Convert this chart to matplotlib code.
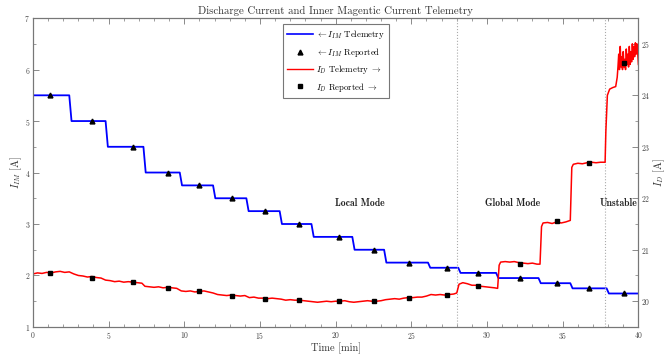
import numpy as np
import matplotlib
matplotlib.use("Agg")
import matplotlib.pyplot as plt
from matplotlib.lines import Line2D
from matplotlib.ticker import MultipleLocator

plt.rcParams['font.family'] = ['cmr10', 'DejaVu Serif']
plt.rcParams['mathtext.fontset'] = 'cm'
plt.rcParams['axes.formatter.use_mathtext'] = True

# inner magnetic current set points (A) and the times it steps down (min)
im_levels = [5.5, 5.0, 4.5, 4.0, 3.75, 3.5, 3.25, 3.0, 2.75, 2.5, 2.25,
             2.15, 2.05, 1.95, 1.85, 1.75, 1.65]
im_steps = [2.4, 4.8, 7.3, 9.7, 11.9, 14.1, 16.3, 18.4, 21.1, 23.2, 26.1,
            28.1, 30.6, 33.4, 35.5, 37.9]

# reported points (same time stamps for both)
rep_t = [1.15, 3.9, 6.6, 8.9, 10.95, 13.15, 15.36, 17.56, 20.25, 22.5, 24.83,
         27.36, 29.4, 32.2, 34.6, 36.75, 39.04]
rep_im = im_levels
rep_id = [20.55, 20.46, 20.37, 20.26, 20.19, 20.11, 20.05, 20.02, 20.0, 20.0,
          20.07, 20.12, 20.30, 20.73, 21.55, 22.68, 24.63]

# discharge current telemetry, (min, A)
id_local = [(0.0, 20.53), (0.3, 20.55), (0.6, 20.54), (0.9, 20.56), (1.2, 20.55),
            (1.5, 20.57), (1.8, 20.58), (2.1, 20.56), (2.4, 20.57), (2.7, 20.53),
            (3.0, 20.50), (3.3, 20.49), (3.6, 20.47), (3.9, 20.48), (4.2, 20.46),
            (4.5, 20.45), (4.8, 20.41), (5.1, 20.40), (5.4, 20.38), (5.7, 20.39),
            (6.0, 20.37), (6.3, 20.38), (6.6, 20.37), (6.9, 20.36), (7.2, 20.35),
            (7.4, 20.29), (7.7, 20.28), (8.0, 20.27), (8.3, 20.28), (8.6, 20.26),
            (8.9, 20.27), (9.2, 20.26), (9.5, 20.25), (9.8, 20.20), (10.1, 20.19),
            (10.4, 20.20), (10.7, 20.18), (11.0, 20.19), (11.3, 20.20), (11.6, 20.18),
            (11.9, 20.16), (12.2, 20.13), (12.5, 20.12), (12.8, 20.11), (13.1, 20.12),
            (13.4, 20.11), (13.7, 20.10), (14.0, 20.11), (14.3, 20.07), (14.6, 20.08),
            (14.9, 20.06), (15.2, 20.06), (15.5, 20.05), (15.8, 20.06), (16.1, 20.05),
            (16.4, 20.04), (16.7, 20.02), (17.0, 20.03), (17.3, 20.02), (17.6, 20.02),
            (17.9, 20.01), (18.2, 20.00), (18.5, 19.99), (18.8, 19.98), (19.1, 19.99),
            (19.4, 20.00), (19.7, 19.99), (20.0, 20.00), (20.3, 20.00), (20.6, 20.01),
            (20.9, 19.99), (21.2, 19.98), (21.5, 19.99), (21.8, 20.00), (22.1, 20.01),
            (22.4, 20.00), (22.7, 20.00), (23.0, 20.01), (23.3, 20.03), (23.6, 20.04),
            (23.9, 20.05), (24.2, 20.04), (24.5, 20.06), (24.8, 20.07), (25.1, 20.07),
            (25.4, 20.08), (25.7, 20.08), (26.0, 20.10), (26.3, 20.13), (26.6, 20.12),
            (26.9, 20.13), (27.2, 20.12), (27.5, 20.13), (27.8, 20.14), (28.0, 20.16)]
id_global = [(28.15, 20.33), (28.4, 20.36), (28.7, 20.34), (29.0, 20.31), (29.3, 20.31),
             (29.6, 20.29), (29.9, 20.28), (30.2, 20.27), (30.5, 20.26), (30.7, 20.25),
             (30.8, 20.70), (30.9, 20.76), (31.2, 20.77), (31.5, 20.76), (31.8, 20.77),
             (32.1, 20.75), (32.4, 20.74), (32.7, 20.73), (33.0, 20.74), (33.3, 20.72),
             (33.5, 20.72), (33.6, 21.45), (33.7, 21.52), (34.0, 21.53), (34.3, 21.51),
             (34.6, 21.54), (34.9, 21.52), (35.2, 21.54), (35.5, 21.57), (35.6, 22.60),
             (35.7, 22.66), (36.0, 22.68), (36.3, 22.67), (36.6, 22.69), (36.9, 22.70),
             (37.2, 22.69), (37.5, 22.70), (37.8, 22.70)]
id_unstable = [(37.85, 23.30), (37.95, 24.00), (38.1, 24.12), (38.3, 24.15), (38.5, 24.17),
               (38.6, 24.35), (38.65, 24.55), (38.7, 24.80), (38.75, 24.50), (38.8, 24.95),
               (38.85, 24.55), (38.9, 24.75), (38.95, 24.50), (39.0, 24.85), (39.05, 24.55),
               (39.1, 24.70), (39.15, 24.50), (39.2, 24.90), (39.25, 24.60), (39.3, 24.80),
               (39.35, 24.55), (39.4, 24.95), (39.45, 24.60), (39.5, 24.85), (39.55, 24.65),
               (39.6, 25.00), (39.65, 24.70), (39.7, 24.95), (39.75, 24.75), (39.8, 25.02),
               (39.85, 24.80), (39.9, 25.00), (39.95, 24.85), (40.0, 24.60)]

mode_lines = [28.0, 37.8]
mode_labels = [(21.6, 'Local Mode'), (31.7, 'Global Mode'), (38.7, 'Unstable')]

id_tel = np.array(id_local + id_global + id_unstable)

# staircase for the magnet current, short ramp at each step
ramp = 0.15
im_t, im_v = [0.0], [im_levels[0]]
for k, ts in enumerate(im_steps):
    im_t += [ts, ts + ramp]
    im_v += [im_levels[k], im_levels[k + 1]]
im_t.append(40.0)
im_v.append(im_levels[-1])

grey = '#777777'
fig = plt.figure(figsize=(6.72, 3.55), dpi=100)
ax = fig.add_axes([0.049, 0.079, 0.901, 0.870])
ax2 = ax.twinx()

ax.plot(im_t, im_v, color='#0000ff', lw=1.3)
ax.plot(rep_t, rep_im, '^', color='black', ms=3.5, zorder=5)
ax2.plot(id_tel[:, 0], id_tel[:, 1], color='#ff0000', lw=1.1)
ax2.plot(rep_t, rep_id, 's', color='black', ms=3.5, zorder=5)

for xv in mode_lines:
    ax.axvline(xv, color='#aaaaaa', ls=':', lw=0.8)
for xv, lab in mode_labels:
    ax.text(xv, 3.4, lab, ha='center', va='center', fontsize=7,
            family=['cmb10', 'DejaVu Serif'], color='#222222')

ax.set_xlim(0, 40)
ax.set_ylim(1, 7)
ax2.set_ylim(19.5, 25.5)
ax.xaxis.set_major_locator(MultipleLocator(5))
ax.xaxis.set_minor_locator(MultipleLocator(1))
ax.yaxis.set_major_locator(MultipleLocator(1))
ax.yaxis.set_minor_locator(MultipleLocator(0.5))
ax2.yaxis.set_major_locator(MultipleLocator(1))
ax2.yaxis.set_minor_locator(MultipleLocator(0.5))

for a in (ax, ax2):
    a.tick_params(which='both', direction='in', colors=grey, labelsize=5.5,
                  labelcolor='#444444', pad=2)
    a.tick_params(which='major', length=4, width=0.6)
    a.tick_params(which='minor', length=2, width=0.5)
    for s in a.spines.values():
        s.set_color(grey)
        s.set_linewidth(0.8)
ax.tick_params(axis='x', which='both', top=True)

ax.set_xlabel('Time [min]', fontsize=7.5, color='#333333', labelpad=1)
ax.set_ylabel(r'$I_{IM}$ [A]', fontsize=7.5, color='#333333', labelpad=0)
ax2.set_ylabel(r'$I_D$ [A]', fontsize=7.5, color='#333333', labelpad=1)
ax.set_title('Discharge Current and Inner Magentic Current Telemetry',
             fontsize=7.8, color='#333333', pad=3)

handles = [Line2D([], [], color='#0000ff', lw=1.2),
           Line2D([], [], ls='none', marker='^', color='black', ms=3.5),
           Line2D([], [], color='#ff0000', lw=1.0),
           Line2D([], [], ls='none', marker='s', color='black', ms=3.5)]
labels = [r'$\leftarrow I_{IM}$ Telemetry', r'$\leftarrow I_{IM}$ Reported',
          r'$I_D$ Telemetry $\rightarrow$', r'$I_D$ Reported $\rightarrow$']
leg = ax2.legend(handles, labels, loc='upper center', bbox_to_anchor=(0.5, 0.995),
                 fontsize=6.3, fancybox=False, framealpha=1, edgecolor=grey,
                 handlelength=3, handletextpad=0.3, labelspacing=0.5,
                 borderpad=0.5)
leg.get_frame().set_linewidth(0.8)

fig.savefig('out.png', dpi=100)
